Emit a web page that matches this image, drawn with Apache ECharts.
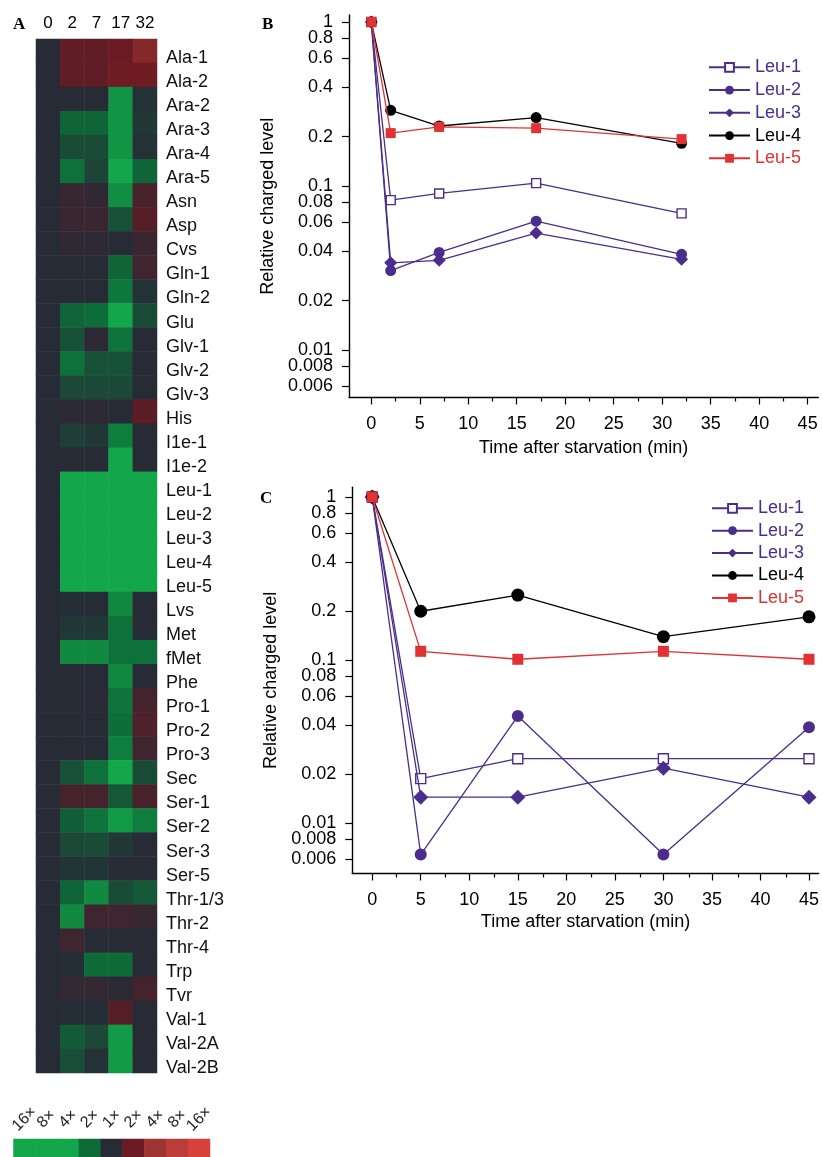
<!DOCTYPE html>
<html><head><meta charset="utf-8">
<script src="https://cdn.jsdelivr.net/npm/echarts@6/dist/echarts.min.js"></script>
<style>html,body{margin:0;padding:0;background:#fff}#c{width:822px;height:1157px}</style>
</head><body><div id="c"></div>
<script>
// ---------- Panel A: heatmap ----------
const heatTimes = ['0', '2', '7', '17', '32'];
const heatRows = ['Ala-1','Ala-2','Ara-2','Ara-3','Ara-4','Ara-5','Asn','Asp','Cvs','Gln-1','Gln-2','Glu','Glv-1','Glv-2','Glv-3','His','I1e-1','I1e-2','Leu-1','Leu-2','Leu-3','Leu-4','Leu-5','Lvs','Met','fMet','Phe','Pro-1','Pro-2','Pro-3','Sec','Ser-1','Ser-2','Ser-3','Ser-5','Thr-1/3','Thr-2','Thr-4','Trp','Tvr','Val-1','Val-2A','Val-2B'];
// log2 fold change per row (columns 0,2,7,17,32); negative = green, positive = red
const heatValues = [
  [0, 0.85, 0.85, 1.0, 1.5],
  [0, 0.85, 0.85, 1.1, 1.1],
  [0, 0, 0, -1.7, -0.1],
  [0, -0.9, -0.9, -1.7, -0.2],
  [0, -0.5, -0.5, -1.7, -0.1],
  [0, -1.1, -0.4, -2.2, -0.9],
  [0, 0.25, 0.15, -1.6, 0.5],
  [0, 0.3, 0.3, -0.6, 0.7],
  [0, 0.15, 0.1, 0, 0.3],
  [0, 0, 0, -0.9, 0.35],
  [0, 0, 0, -1.2, -0.1],
  [0, -0.9, -1.05, -2.2, -0.5],
  [0, -0.6, 0.1, -1.15, 0],
  [0, -1.1, -0.6, -0.6, 0],
  [0, -0.45, -0.45, -0.45, 0],
  [0, 0.1, 0.1, 0, 0.8],
  [0, -0.3, -0.2, -1.3, 0],
  [0, 0, 0, -2.2, 0],
  [0, -3.5, -3.5, -3.5, -3.5],
  [0, -3.5, -3.5, -3.5, -3.5],
  [0, -3.5, -3.5, -3.5, -3.5],
  [0, -2.3, -3.5, -2.8, -3.5],
  [0, -3.5, -3.5, -3.5, -3.5],
  [0, -0.05, 0, -1.5, 0],
  [0, -0.2, -0.2, -1.1, 0],
  [0, -1.5, -1.5, -1.1, -1.1],
  [0, 0, 0, -1.5, 0],
  [0, 0, 0.05, -1.15, 0.45],
  [0, 0, 0, -1.05, 0.6],
  [0, 0, 0, -1.3, 0.35],
  [0, -0.6, -1.1, -2.2, -0.5],
  [0, 0.45, 0.45, -0.7, 0.5],
  [0, -0.8, -1.15, -1.8, -1.3],
  [0, -0.45, -0.5, -0.2, 0],
  [0, -0.15, -0.15, 0, 0],
  [0, -0.9, -1.5, -0.5, -0.7],
  [0, -1.5, 0.35, 0.35, 0.25],
  [0, 0.35, 0, 0, 0],
  [0, -0.05, -1.0, -1.0, 0],
  [0, 0.2, 0.2, 0.1, 0.45],
  [0, -0.05, -0.05, 0.7, 0],
  [0, -0.75, -0.45, -1.8, 0],
  [0, -0.55, -0.1, -1.8, 0]
];
const scaleLabels = ['16×', '8×', '4×', '2×', '1×', '2×', '4×', '8×', '16×'];
const scaleValues = [-4, -3, -2, -1, 0, 1, 2, 3, 4];
const scaleColors = ['#14a64a', '#14a64a', '#14a64a', '#0d6b38', '#262b36', '#6a1a22', '#9e3530', '#bb3c38', '#d6423a'];

// ---------- Panel B ----------
const timesB = [0, 2, 7, 17, 32];
const leu1B = [1, 0.082, 0.090, 0.104, 0.068];
const leu2B = [1, 0.0305, 0.0393, 0.061, 0.0383];
const leu3B = [1, 0.034, 0.0352, 0.0516, 0.0357];
const leu4B = [1, 0.289, 0.232, 0.261, 0.182];
const leu5B = [1, 0.21, 0.229, 0.225, 0.193];

// ---------- Panel C ----------
const timesC = [0, 5, 15, 30, 45];
const leu1C = [1, 0.0187, 0.0248, 0.0248, 0.0248];
const leu2C = [1, 0.0064, 0.0453, 0.0064, 0.0386];
const leu3C = [1, 0.0144, 0.0144, 0.0217, 0.0144];
const leu4C = [1, 0.199, 0.25, 0.139, 0.184];
const leu5C = [1, 0.113, 0.101, 0.113, 0.101];

// ---------- tick labels ----------
const yTickLabels = [1, 0.8, 0.6, 0.4, 0.2, 0.1, 0.08, 0.06, 0.04, 0.02, 0.01, 0.008, 0.006];
const xTickLabels = [0, 5, 10, 15, 20, 25, 30, 35, 40, 45];
const xMinorTicks = [2.5, 7.5, 12.5, 17.5, 22.5, 27.5, 32.5, 37.5, 42.5];
const seriesNames = ['Leu-1', 'Leu-2', 'Leu-3', 'Leu-4', 'Leu-5'];

const PURPLE = '#4b2d8c';
const RED = '#e03232';
const BLACK = '#000';
const FONT = '"Liberation Sans", Arial, Helvetica, sans-serif';
const SERIF = '"Liberation Serif", "Times New Roman", serif';

const logTicks = yTickLabels.map(v => Math.log10(v));
const logTicksTop = logTicks.slice(0, 1);   // "1" (drawn on an overlay axis so it is not hidden)
const logTicksRest = logTicks.slice(1);
function logFmt(v) {
  let best = yTickLabels[0], d = Infinity;
  yTickLabels.forEach(t => { const dd = Math.abs(Math.log10(t) - v); if (dd < d) { d = dd; best = t; } });
  return String(best);
}

const chart = echarts.init(document.getElementById('c'), null, { renderer: 'canvas' });

const heatData = [];
heatValues.forEach((row, r) => row.forEach((v, c) => heatData.push([c, r, v])));
const scaleData = scaleValues.map((v, i) => [i, 0, v]);

const styles = [
  { symbol: 'rect', color: '#fff', border: PURPLE, line: PURPLE, sizeB: 9, sizeC: 10 },
  { symbol: 'circle', color: PURPLE, border: PURPLE, line: PURPLE, sizeB: 11, sizeC: 12 },
  { symbol: 'diamond', color: PURPLE, border: PURPLE, line: PURPLE, sizeB: 13, sizeC: 15 },
  { symbol: 'circle', color: BLACK, border: BLACK, line: BLACK, sizeB: 11, sizeC: 13 },
  { symbol: 'rect', color: RED, border: RED, line: RED, sizeB: 10, sizeC: 11 }
];
const legendText = [PURPLE, PURPLE, PURPLE, BLACK, RED];

function lineSeries(i, times, vals, xIdx, yIdx, sizeKey) {
  const s = styles[i];
  return {
    type: 'line', name: seriesNames[i], xAxisIndex: xIdx, yAxisIndex: yIdx,
    data: times.map((t, k) => [t, Math.log10(vals[k])]),
    symbol: s.symbol, symbolSize: s[sizeKey], showAllSymbol: true,
    itemStyle: { color: s.color, borderColor: s.border, borderWidth: i === 0 ? 1.4 : 0 },
    lineStyle: { color: s.line, width: 1.3 },
    emphasis: { disabled: true },
    z: 2 + i
  };
}

function mainX(grid, min, max, gap) {
  return {
    gridIndex: grid, type: 'value', min: min, max: max,
    name: 'Time after starvation (min)', nameLocation: 'middle', nameGap: gap,
    nameTextStyle: { fontFamily: FONT, fontSize: 18, color: '#000' },
    axisLine: { show: true, onZero: false, lineStyle: { color: '#000', width: 1.4 } },
    axisTick: { show: true, length: 7, customValues: xTickLabels, lineStyle: { color: '#000', width: 1.2 } },
    axisLabel: { customValues: xTickLabels, fontFamily: FONT, fontSize: 18, color: '#000', margin: 18,
      showMinLabel: true, showMaxLabel: true },
    splitLine: { show: false }
  };
}
function minorX(grid, min, max) {
  return {
    gridIndex: grid, type: 'value', min: min, max: max, position: 'bottom',
    axisLine: { show: false, onZero: false },
    axisTick: { show: true, length: 4, customValues: xMinorTicks, lineStyle: { color: '#000', width: 1.2 } },
    axisLabel: { show: false }, splitLine: { show: false }
  };
}
function mainY(grid, min, max, gap) {
  return {
    gridIndex: grid, type: 'value', min: min, max: max,
    name: 'Relative charged level', nameLocation: 'middle', nameGap: gap,
    nameTextStyle: { fontFamily: FONT, fontSize: 18, color: '#000' },
    axisLine: { show: true, onZero: false, lineStyle: { color: '#000', width: 1.4 } },
    axisTick: { show: true, length: 7, customValues: logTicks, lineStyle: { color: '#000', width: 1.2 } },
    axisLabel: { customValues: logTicksRest, formatter: logFmt, fontFamily: FONT, fontSize: 18, color: '#000', margin: 16,
      showMinLabel: true, showMaxLabel: true },
    splitLine: { show: false }
  };
}
function topY(grid, min, max) {
  return {
    gridIndex: grid, type: 'value', min: min, max: max,
    axisLine: { show: false, onZero: false }, axisTick: { show: false },
    axisLabel: { customValues: logTicksTop, formatter: logFmt, fontFamily: FONT, fontSize: 18, color: '#000', margin: 16,
      showMinLabel: true, showMaxLabel: true },
    splitLine: { show: false }
  };
}

function legendCfg(left, top, gap) {
  return {
    orient: 'vertical', left: left, top: top, itemWidth: 41, itemHeight: 11, itemGap: gap,
    selectedMode: false,
    textStyle: { fontFamily: FONT, fontSize: 18, lineHeight: 18 },
    data: seriesNames.map((n, i) => ({ name: n, textStyle: { color: legendText[i] } }))
  };
}

const option = {
  animation: false,
  backgroundColor: '#fff',
  textStyle: { fontFamily: FONT },
  grid: [
    { left: 36, top: 39, width: 121, height: 1034 },
    { left: 13.5, top: 1139, width: 196.5, height: 18 },
    { left: 349, top: 14.9, width: 469.3, height: 382.6 },
    { left: 352.3, top: 487.2, width: 468.4, height: 386.3 },
    { left: 349, top: 14.9, width: 469.3, height: 382.6 },
    { left: 352.3, top: 487.2, width: 468.4, height: 386.3 }
  ],
  xAxis: [
    { gridIndex: 0, type: 'category', data: heatTimes, position: 'top',
      axisLine: { show: false }, axisTick: { show: false },
      axisLabel: { fontFamily: FONT, fontSize: 17, color: '#000', margin: 7, interval: 0 }, splitLine: { show: false } },
    { gridIndex: 1, type: 'category', data: scaleLabels.map((_, i) => String(i)), position: 'top',
      axisLine: { show: false }, axisTick: { show: false },
      axisLabel: { formatter: (v, i) => scaleLabels[i], rotate: -45, align: 'center', verticalAlign: 'middle',
        fontFamily: FONT, fontSize: 16, color: '#222', margin: 20, interval: 0 },
      splitLine: { show: false } },
    mainX(2, -2.3, 46.1, 42),
    mainX(3, -2.05, 46.0, 40),
    minorX(4, -2.3, 46.1),
    minorX(5, -2.05, 46.0)
  ],
  yAxis: [
    { gridIndex: 0, type: 'category', data: heatRows, inverse: true, position: 'right',
      axisLine: { show: false }, axisTick: { show: false },
      axisLabel: { fontFamily: FONT, fontSize: 18, color: '#111', margin: 9, interval: 0, verticalAlign: 'top', lineHeight: 14 },
      splitLine: { show: false } },
    { gridIndex: 1, type: 'category', data: [''], show: false },
    mainY(2, -2.29, 0.043, 72),
    mainY(3, -2.31, 0.06, 72),
    topY(4, -2.29, 0.043),
    topY(5, -2.31, 0.06)
  ],
  visualMap: {
    show: false, type: 'continuous', min: -4, max: 4, seriesIndex: [0, 1],
    inRange: { color: scaleColors }
  },
  legend: [legendCfg(703, 53.3, 4.75), legendCfg(706, 494.3, 4.4)],
  graphic: [
    { type: 'text', left: 13, top: 16, style: { text: 'A', font: 'bold 17px ' + SERIF, fill: '#000' } },
    { type: 'text', left: 262, top: 16, style: { text: 'B', font: 'bold 17px ' + SERIF, fill: '#000' } },
    { type: 'text', left: 260, top: 490, style: { text: 'C', font: 'bold 17px ' + SERIF, fill: '#000' } }
  ],
  series: [
    { type: 'heatmap', xAxisIndex: 0, yAxisIndex: 0, data: heatData, itemStyle: { borderWidth: 0 }, emphasis: { disabled: true } },
    { type: 'heatmap', xAxisIndex: 1, yAxisIndex: 1, data: scaleData, itemStyle: { borderWidth: 0 }, emphasis: { disabled: true } },
    lineSeries(0, timesB, leu1B, 2, 2, 'sizeB'),
    lineSeries(1, timesB, leu2B, 2, 2, 'sizeB'),
    lineSeries(2, timesB, leu3B, 2, 2, 'sizeB'),
    lineSeries(3, timesB, leu4B, 2, 2, 'sizeB'),
    lineSeries(4, timesB, leu5B, 2, 2, 'sizeB'),
    lineSeries(0, timesC, leu1C, 3, 3, 'sizeC'),
    lineSeries(1, timesC, leu2C, 3, 3, 'sizeC'),
    lineSeries(2, timesC, leu3C, 3, 3, 'sizeC'),
    lineSeries(3, timesC, leu4C, 3, 3, 'sizeC'),
    lineSeries(4, timesC, leu5C, 3, 3, 'sizeC')
  ]
};
chart.setOption(option);
</script></body></html>
